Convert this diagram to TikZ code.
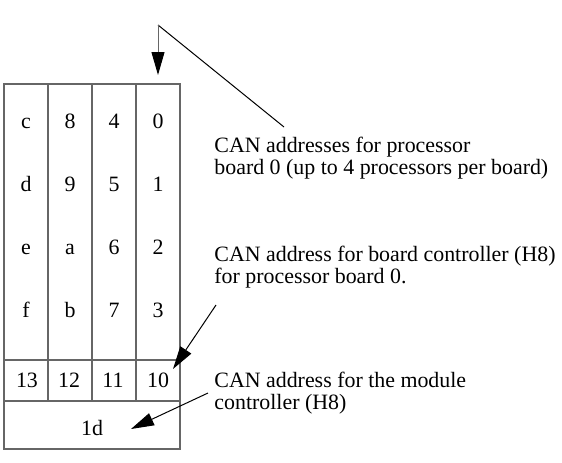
\documentclass[tikz,border=0pt]{standalone}
\usepackage{fontspec}
\setmainfont{Liberation Serif}
\usetikzlibrary{arrows.meta}
\begin{document}
\begin{tikzpicture}[x=0.5pt,y=-0.5pt,
    every node/.style={font=\fontsize{10.95}{10.9}\selectfont,inner sep=0pt},
    cell/.style={anchor=base},
    note/.style={anchor=base west,align=left},
    grid/.style={draw=black!60,line width=0.7pt},
    pointer/.style={-{Triangle[length=11.5pt,width=6.5pt,black]},line width=0.5pt}]
  \useasboundingbox (0,0) rectangle (562,462);

  % module outline
  \draw[grid] (4,84) rectangle (180,449);
  \draw[grid] (4,360) -- (180,360);
  \draw[grid] (4,401) -- (180,401);
  \foreach \x in {48,92,136}
    \draw[grid] (\x,84) -- (\x,401);

  % processor addresses
  \foreach \a/\b/\c/\d [count=\r from 0] in {c/8/4/0,d/9/5/1,e/a/6/2,f/b/7/3}
  {
    \node[cell] (p\a) at (26,128+63*\r) {\a};
    \node[cell] (p\b) at (70,128+63*\r) {\b};
    \node[cell] (p\c) at (114,128+63*\r) {\c};
    \node[cell] (p\d) at (158,128+63*\r) {\d};
  }

  % board controllers
  \node[cell] (h13) at (27,387) {13};
  \node[cell] (h12) at (69,387) {12};
  \node[cell] (h11) at (113,387) {11};
  \node[cell] (h10) at (158,387) {10};

  % module controller
  \node[cell] (m1d) at (92,435) {1d};

  % notes (base = last line)
  \node[note] (procnote) at (214,174)
    {CAN addresses for processor\\board 0 (up to 4 processors per board)};
  \node[note] (boardnote) at (214,283)
    {CAN address for board controller (H8)\\for processor board 0.};
  \node[note] (modnote) at (214,409)
    {CAN address for the module\\controller (H8)};

  % pointers
  \coordinate (bend) at (158,25);
  \coordinate (procend) at (284,127);
  \coordinate (colzero) at (158,75);
  \coordinate (boardstart) at (216,305);
  \coordinate (boardtip) at (173,369);
  \coordinate (modstart) at (208,393);
  \coordinate (modtip) at (131,429);

  \draw[line width=0.5pt] (procend) -- (bend);
  \draw[pointer,draw=black!60] (bend) -- (colzero);
  \draw[pointer] (boardstart) -- (boardtip);
  \draw[pointer] (modstart) -- (modtip);
\end{tikzpicture}
\end{document}
